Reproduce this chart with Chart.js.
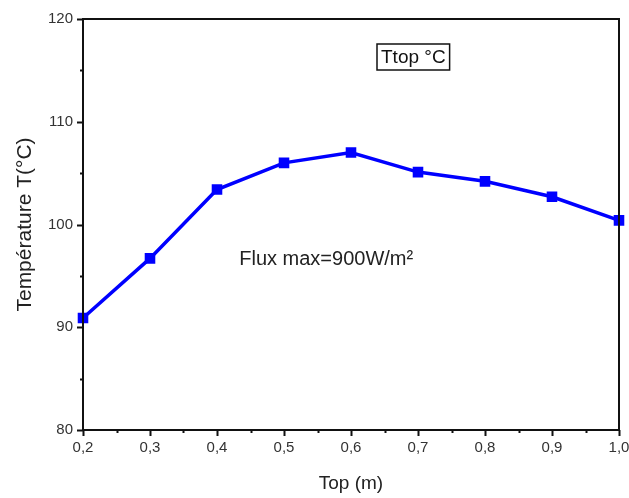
<!DOCTYPE html>
<html>

<head>
    <script src="https://cdn.jsdelivr.net/npm/chart.js"></script>
    <title>Ttop</title>
    <style>
        html, body { margin: 0; padding: 0; background: #fff; }
        #wrap { width: 629px; height: 498px; }
    </style>
</head>

<body>
    <div id="wrap"><canvas id="chart" width="629" height="498"></canvas></div>

    <script>
        const positions = [0.2, 0.3, 0.4, 0.5, 0.6, 0.7, 0.8, 0.9, 1.0];
        const temperatures = [90.9, 96.7, 103.4, 106.0, 107.0, 105.1, 104.2, 102.7, 100.4];
        const seriesLabel = 'Ttop °C';
        const noteText = 'Flux max=900W/m²';
        const xTitle = 'Top (m)';
        const yTitle = 'Température T(°C)';

        const fontFamily = '"Liberation Sans", Arial, sans-serif';

        function fmtComma(v) {
            return v.toFixed(1).replace('.', ',');
        }

        // frame, outward ticks (major + minor), legend box and note
        const decorPlugin = {
            id: 'decor',
            afterDraw(chart) {
                const ctx = chart.ctx;
                const area = chart.chartArea;
                const xs = chart.scales.x;
                const ys = chart.scales.y;
                ctx.save();
                ctx.strokeStyle = '#111';
                ctx.lineWidth = 2;

                // ticks
                ctx.beginPath();
                xs.ticks.forEach(t => {
                    const px = Math.round(xs.getPixelForValue(t.value)) + 0.5;
                    const major = Math.round(t.value * 100) % 10 === 0;
                    ctx.moveTo(px, area.bottom);
                    ctx.lineTo(px, area.bottom + (major ? 6 : 3));
                });
                ys.ticks.forEach(t => {
                    const py = Math.round(ys.getPixelForValue(t.value)) + 0.5;
                    const major = Math.round(t.value) % 10 === 0;
                    ctx.moveTo(area.left, py);
                    ctx.lineTo(area.left - (major ? 6 : 3), py);
                });
                ctx.stroke();

                // frame
                ctx.strokeRect(area.left, area.top, area.right - area.left, area.bottom - area.top);

                // legend box
                ctx.font = '19px ' + fontFamily;
                ctx.fillStyle = '#111';
                ctx.textBaseline = 'middle';
                ctx.textAlign = 'left';
                const lx = 377, ly = 44;
                const tw = ctx.measureText(seriesLabel).width;
                ctx.lineWidth = 1.5;
                ctx.strokeRect(lx, ly, tw + 8, 26);
                ctx.fillText(seriesLabel, lx + 4, ly + 14);

                // note
                ctx.font = '20px ' + fontFamily;
                ctx.textAlign = 'center';
                ctx.fillStyle = '#222';
                ctx.fillText(noteText, xs.getPixelForValue(0.563), ys.getPixelForValue(96.6));
                ctx.restore();
            }
        };

        new Chart(document.getElementById('chart'), {
            type: 'line',
            data: {
                datasets: [{
                    label: seriesLabel,
                    data: positions.map((x, i) => ({ x: x, y: temperatures[i] })),
                    borderColor: '#0000ff',
                    backgroundColor: '#0000ff',
                    borderWidth: 3.5,
                    pointStyle: 'rect',
                    pointRadius: 5,
                    pointHoverRadius: 5,
                    tension: 0,
                    clip: false
                }]
            },
            options: {
                responsive: false,
                animation: false,
                events: [],
                layout: {
                    padding: { top: 19, right: 10, left: 0, bottom: 0 }
                },
                plugins: {
                    legend: { display: false },
                    tooltip: { enabled: false }
                },
                scales: {
                    x: {
                        type: 'linear',
                        min: 0.2,
                        max: 1.0,
                        afterFit: s => {
                            s.height = 68;
                            s.paddingLeft = 0;
                            s.paddingRight = 0;
                        },
                        grid: { display: false, drawTicks: false },
                        border: { display: false },
                        ticks: {
                            stepSize: 0.05,
                            autoSkip: false,
                            maxRotation: 0,
                            padding: 9,
                            color: '#333',
                            font: { family: fontFamily, size: 15 },
                            callback: v => (Math.round(v * 100) % 10 === 0 ? fmtComma(v) : '')
                        },
                        title: {
                            display: true,
                            text: xTitle,
                            color: '#222',
                            font: { family: fontFamily, size: 19 },
                            padding: { top: 0, bottom: 3 }
                        }
                    },
                    y: {
                        min: 80,
                        max: 120,
                        afterFit: s => {
                            s.width = 83;
                            s.paddingTop = 0;
                            s.paddingBottom = 0;
                        },
                        grid: { display: false, drawTicks: false },
                        border: { display: false },
                        ticks: {
                            stepSize: 5,
                            autoSkip: false,
                            padding: 10,
                            color: '#333',
                            font: { family: fontFamily, size: 15 },
                            callback: v => (v % 10 === 0 ? String(v) : '')
                        },
                        title: {
                            display: true,
                            text: yTitle,
                            color: '#222',
                            font: { family: fontFamily, size: 21 },
                            padding: { top: 13, bottom: 0 }
                        }
                    }
                }
            },
            plugins: [decorPlugin]
        });
    </script>
</body>

</html>
